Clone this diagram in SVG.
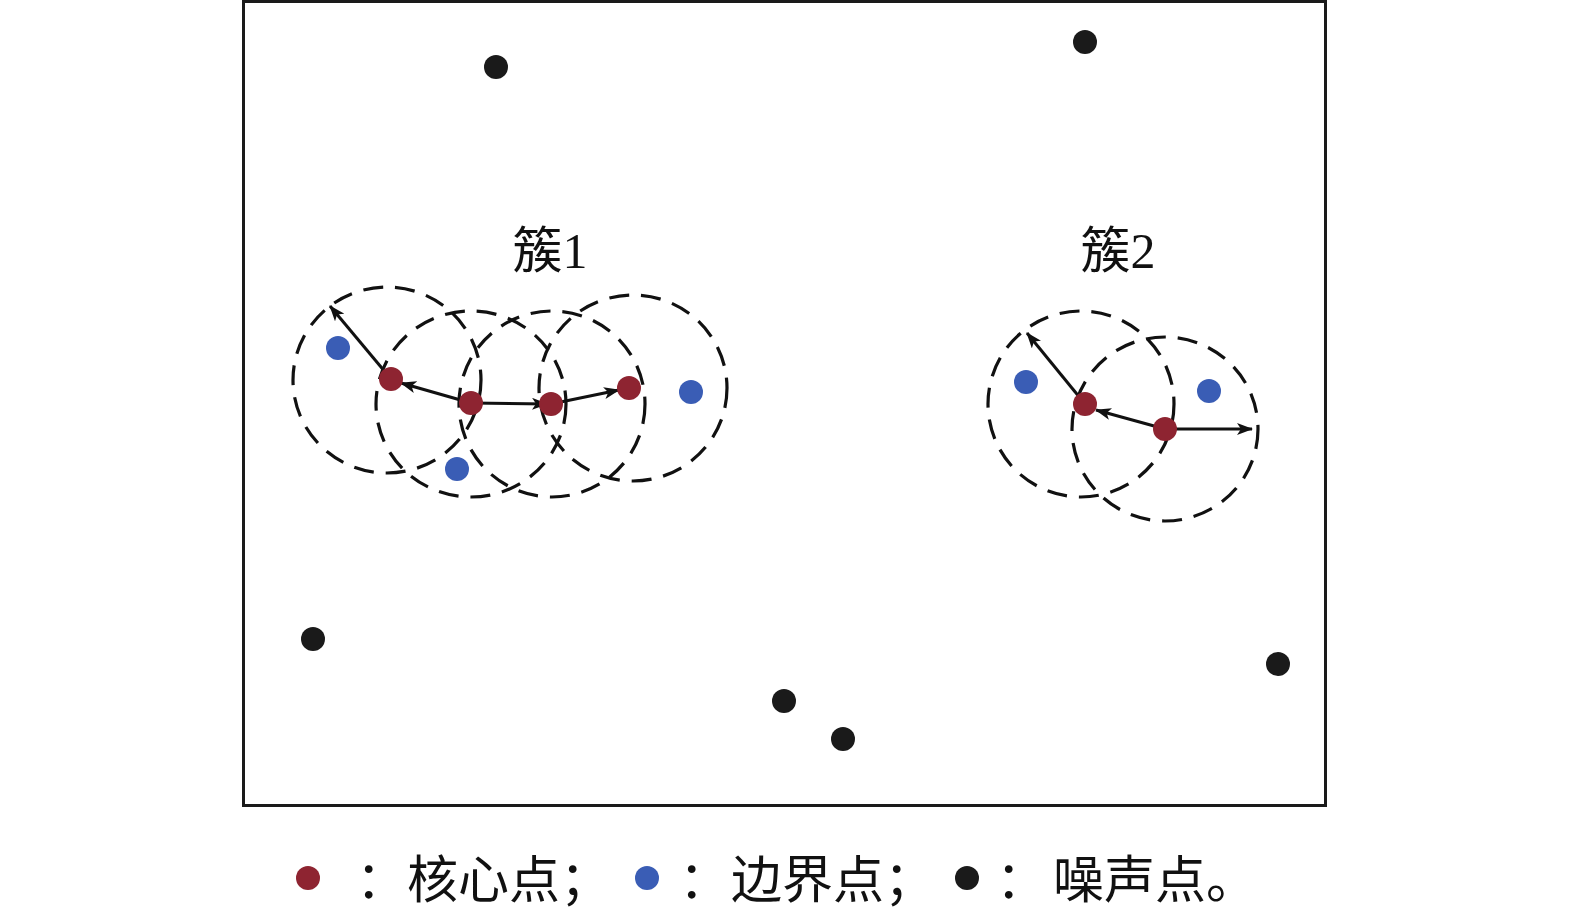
<svg xmlns="http://www.w3.org/2000/svg" width="1575" height="912" viewBox="0 0 1575 912">
<style>
.frame{fill:none;stroke:#1a1a1a;stroke-width:3}
.nb{fill:none;stroke:#111;stroke-width:3.2;stroke-dasharray:20 12}
.core{fill:#8e2431}
.border{fill:#3a5db5}
.noise{fill:#1a1a1a}
.arr{stroke:#111;stroke-width:3;fill:none;marker-end:url(#ah)}
.lbl{font-family:"Liberation Serif","Noto Sans CJK SC",serif;font-size:50px;fill:#111}
.leg{font-family:"Noto Sans CJK SC",serif;font-size:51px;fill:#111}
</style>
<defs>
<marker id="ah" viewBox="0 0 16 12" refX="15" refY="6" markerWidth="16" markerHeight="12" markerUnits="userSpaceOnUse" orient="auto">
<path d="M0,0 L16,6 L0,12 L4,6 Z" fill="#111"/>
</marker>
</defs>
<rect class="frame" x="243.5" y="1.5" width="1082" height="804"/>
<g id="neighborhoods">
<ellipse class="nb" cx="387" cy="380" rx="94" ry="93"/>
<ellipse class="nb" cx="471" cy="404" rx="95" ry="93"/>
<ellipse class="nb" cx="552" cy="404" rx="93" ry="93"/>
<ellipse class="nb" cx="633" cy="388" rx="94" ry="93"/>
<ellipse class="nb" cx="1081" cy="404" rx="93" ry="93"/>
<ellipse class="nb" cx="1165" cy="429" rx="93" ry="92"/>
</g>
<g id="connectors">
<line class="arr" x1="391" y1="379" x2="330" y2="306"/>
<line class="arr" x1="471" y1="403" x2="401" y2="383"/>
<line class="arr" x1="471" y1="403" x2="547" y2="404"/>
<line class="arr" x1="551" y1="404" x2="619" y2="390"/>
<line class="arr" x1="1085" y1="404" x2="1027" y2="333"/>
<line class="arr" x1="1165" y1="429" x2="1096" y2="410"/>
<line class="arr" x1="1165" y1="429" x2="1252" y2="429"/>
</g>
<g id="cluster1-points">
<circle class="border" cx="338" cy="348" r="12"/>
<circle class="border" cx="457" cy="469" r="12"/>
<circle class="border" cx="691" cy="392" r="12"/>
<circle class="core" cx="391" cy="379" r="12"/>
<circle class="core" cx="471" cy="403" r="12"/>
<circle class="core" cx="551" cy="404" r="12"/>
<circle class="core" cx="629" cy="388" r="12"/>
</g>
<g id="cluster2-points">
<circle class="border" cx="1026" cy="382" r="12"/>
<circle class="border" cx="1209" cy="391" r="12"/>
<circle class="core" cx="1085" cy="404" r="12"/>
<circle class="core" cx="1165" cy="429" r="12"/>
</g>
<g id="noise-points">
<circle class="noise" cx="496" cy="67" r="12"/>
<circle class="noise" cx="1085" cy="42" r="12"/>
<circle class="noise" cx="313" cy="639" r="12"/>
<circle class="noise" cx="784" cy="701" r="12"/>
<circle class="noise" cx="843" cy="739" r="12"/>
<circle class="noise" cx="1278" cy="664" r="12"/>
</g>
<g id="labels">
<text class="lbl" x="550" y="268" text-anchor="middle">簇1</text>
<text class="lbl" x="1118" y="268" text-anchor="middle">簇2</text>
</g>
<g id="legend">
<circle class="core" cx="308" cy="878" r="12"/>
<text class="leg" x="356" y="898">：</text>
<text class="leg" x="407" y="898">核心点；</text>
<circle class="border" cx="647" cy="878" r="12"/>
<text class="leg" x="679" y="898">：</text>
<text class="leg" x="731" y="898">边界点；</text>
<circle class="noise" cx="967" cy="878" r="12"/>
<text class="leg" x="996" y="898">：</text>
<text class="leg" x="1053" y="898">噪声点。</text>
</g>
</svg>
